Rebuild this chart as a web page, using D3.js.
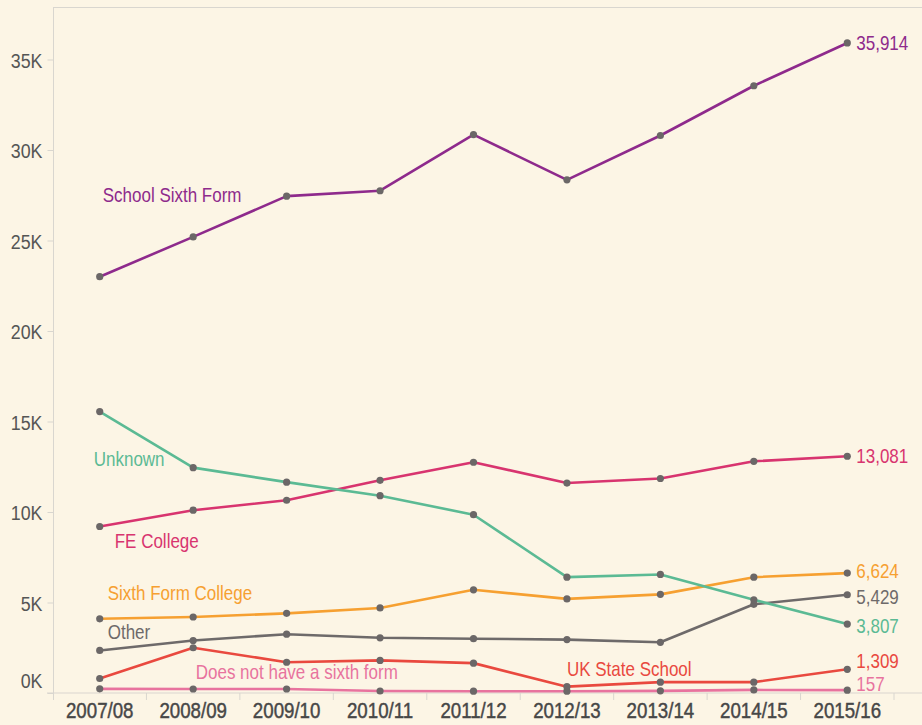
<!DOCTYPE html>
<html>
<head>
<meta charset="utf-8">
<script src="https://cdn.jsdelivr.net/npm/d3@7/dist/d3.min.js"></script>
<style>
  html, body { margin: 0; padding: 0; background: #fcf5e5; }
  svg { display: block; }
  text { font-family: "Liberation Sans", Arial, sans-serif; }
</style>
</head>
<body>
<svg id="chart" width="922" height="725"></svg>
<script>
// ---- Data ----
const years = ["2007/08","2008/09","2009/10","2010/11","2011/12","2012/13","2013/14","2014/15","2015/16"];
const seriesNames = ["School Sixth Form","Unknown","FE College","Sixth Form College","Other","UK State School","Does not have a sixth form"];
const schoolSixthForm   = [23000, 25200, 27450, 27750, 30850, 28350, 30800, 33550, 35914];
const unknown           = [15550, 12450, 11650, 10900,  9850,  6400,  6550,  5150,  3807];
const feCollege         = [ 9200, 10100, 10650, 11750, 12750, 11600, 11850, 12800, 13081];
const sixthFormCollege  = [ 4100,  4200,  4400,  4700,  5700,  5200,  5450,  6400,  6624];
const other             = [ 2350,  2900,  3250,  3050,  3000,  2950,  2800,  4900,  5429];
const ukStateSchool     = [  800,  2500,  1700,  1800,  1650,   350,   600,   600,  1309];
const noSixthForm       = [  230,   220,   220,   110,   100,   100,   120,   170,   157];
const yTickValues = [0, 5000, 10000, 15000, 20000, 25000, 30000, 35000];
const yTickLabels = ["0K","5K","10K","15K","20K","25K","30K","35K"];

// ---- Styles ----
const seriesValues = [schoolSixthForm, unknown, feCollege, sixthFormCollege, other, ukStateSchool, noSixthForm];
const colors = ["#8e2a8c", "#5bba94", "#d8346f", "#f6a031", "#6e6a6a", "#e9493f", "#e8739e"];
const SX = 0.85; // horizontal condensing of text
// label placement (pixel offsets from a reference point of each series)
const nameLabels = [
  {idx:0, dx: 3,  dy: -82},
  {idx:0, dx: -6, dy: 47},
  {idx:0, dx: 15, dy: 15},
  {idx:0, dx: 8,  dy: -26},
  {idx:0, dx: 8,  dy: -18},
  {idx:5, dx: 0,  dy: -18},
  {idx:0, dx: 96, dy: -17}
];
const endDy = [0, 2, 0, -2, 2, -8, -6];

const svg = d3.select("#chart");
const W = 922, H = 725;
svg.append("rect").attr("width", W).attr("height", H).attr("fill", "#fcf5e5");

const x = d3.scaleBand().domain(years).range([53, 894]).padding(0);
const xc = d => x(d) + x.bandwidth() / 2;
const y = d3.scaleLinear().domain([0, 35000]).range([693, 59.5]);
const topY = 7.5;

function condText(g, px, py, str, color, size, anchor) {
  g.append("g").attr("transform", `translate(${px},${py}) scale(${SX},1)`)
    .append("text").attr("dy", "0.35em").attr("text-anchor", anchor || "start")
    .attr("fill", color).style("font-size", size + "px").text(str);
}

// frame
const axisColor = "#d9d6cf";
svg.append("line").attr("x1", 53).attr("x2", W).attr("y1", topY).attr("y2", topY)
  .attr("stroke", axisColor).attr("stroke-width", 1);

// y axis
const yAxis = d3.axisLeft(y).tickValues(yTickValues)
  .tickFormat((d, i) => yTickLabels[i]).tickSize(6).tickPadding(5);
const gy = svg.append("g").attr("transform", "translate(53.5,0)").call(yAxis);
gy.select(".domain").remove();
gy.selectAll(".tick line").attr("stroke", axisColor);
gy.selectAll(".tick text").attr("fill", "#555").style("font-size", "21px")
  .attr("dy", "0.36em").attr("transform", `scale(${SX},1)`).attr("x", -11 / SX);
gy.selectAll(".tick").filter(d => d === 0).select("text").attr("y", -13);
svg.append("line").attr("x1", 53.5).attr("x2", 53.5).attr("y1", topY).attr("y2", 700)
  .attr("stroke", axisColor).attr("stroke-width", 1);

// x axis
const gx = svg.append("g").attr("transform", "translate(0,693)")
  .call(d3.axisBottom(x).tickSize(0).tickPadding(9));
gx.select(".domain").remove();
gx.selectAll(".tick text").attr("fill", "#474747").style("font-size", "22px")
  .attr("stroke", "#474747").attr("stroke-width", 0.45)
  .attr("dy", "0.72em").attr("transform", `scale(${SX},1)`);
svg.append("line").attr("x1", 47).attr("x2", W).attr("y1", 693).attr("y2", 693)
  .attr("stroke", axisColor).attr("stroke-width", 1.2);
const edges = years.map(d => x(d)).concat([x(years[years.length - 1]) + x.bandwidth()]);
svg.append("g").selectAll("line").data(edges.slice(1)).join("line")
  .attr("x1", d => d).attr("x2", d => d).attr("y1", 693).attr("y2", 700)
  .attr("stroke", axisColor);

// lines
const line = d3.line().x((d, i) => xc(years[i])).y(d => y(d));
const drawOrder = [6, 5, 4, 3, 2, 1, 0];
drawOrder.forEach(s => {
  svg.append("path").datum(seriesValues[s]).attr("d", line)
    .attr("fill", "none").attr("stroke", colors[s]).attr("stroke-width", 2.6)
    .attr("stroke-linejoin", "round");
});
drawOrder.forEach(s => {
  svg.append("g").selectAll("circle").data(seriesValues[s]).join("circle")
    .attr("cx", (d, i) => xc(years[i])).attr("cy", d => y(d)).attr("r", 3.6)
    .attr("fill", "#6b6767");
});

// series name labels
const gl = svg.append("g");
seriesNames.forEach((name, s) => {
  const L = nameLabels[s];
  const v = seriesValues[s][L.idx];
  condText(gl, xc(years[L.idx]) + L.dx, y(v) + L.dy, name, colors[s], 20);
});

// end value labels
const fmt = d3.format(",");
seriesValues.forEach((vals, s) => {
  const v = vals[vals.length - 1];
  condText(gl, xc(years[years.length - 1]) + 9, y(v) + endDy[s], fmt(v), colors[s], 20);
});
</script>
</body>
</html>
